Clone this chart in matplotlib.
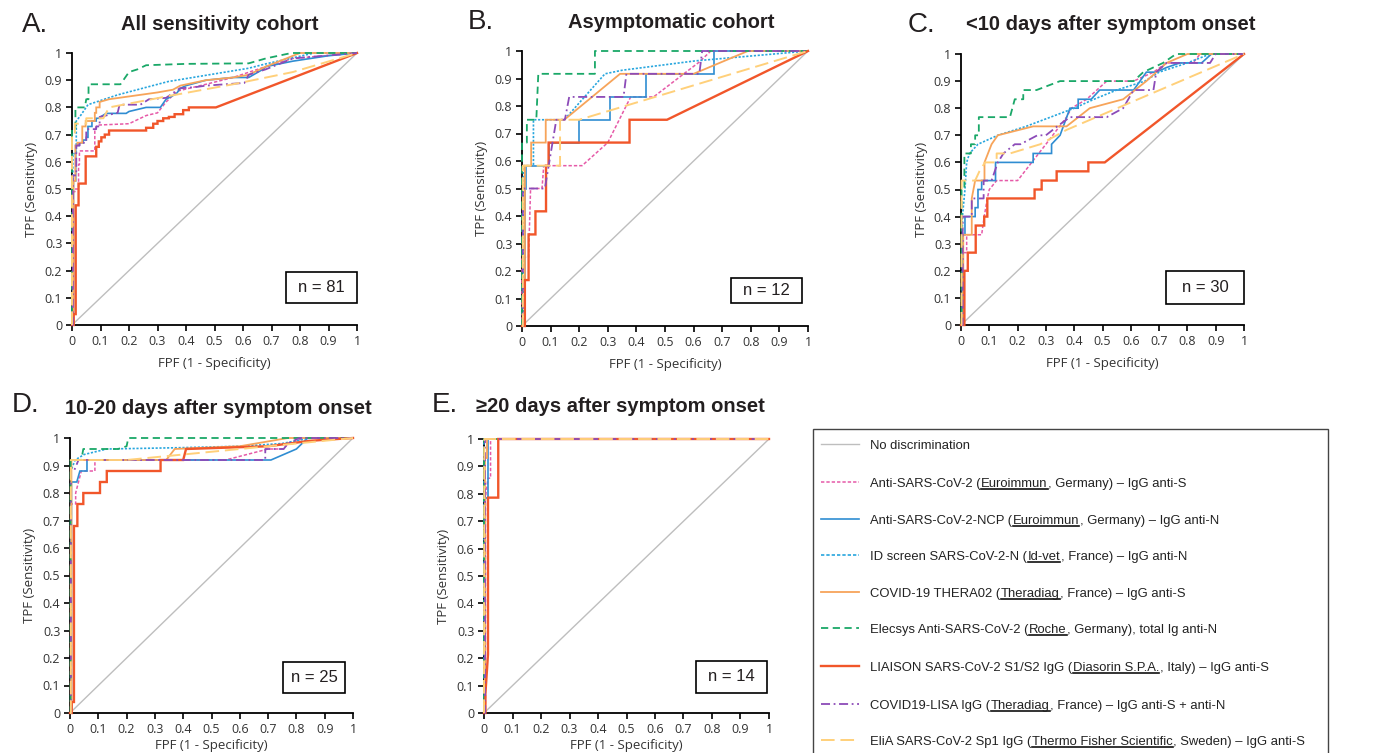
import numpy as np
import matplotlib
matplotlib.use("Agg")
import matplotlib.pyplot as plt
from matplotlib.lines import Line2D
from matplotlib.patches import Rectangle

# ---------------- DATA ----------------
TICKS = [0, 0.1, 0.2, 0.3, 0.4, 0.5, 0.6, 0.7, 0.8, 0.9, 1]
TICK_LABELS = ["0", "0.1", "0.2", "0.3", "0.4", "0.5", "0.6", "0.7", "0.8", "0.9", "1"]

PANEL_LETTERS = ["A.", "B.", "C.", "D.", "E."]
PANEL_TITLES = ["All sensitivity cohort", "Asymptomatic cohort",
                "<10 days after symptom onset", "10-20 days after symptom onset",
                "\u226520 days after symptom onset"]
PANEL_N = [81, 12, 30, 25, 14]

DIAG_FPR = [0, 1]
DIAG_TPR = [0, 1]

# ---- Panel A: all sensitivity cohort
A_euroS_fpr = [0, 0.003, 0.003, 0.01, 0.01, 0.023, 0.023, 0.026, 0.026, 0.044, 0.08, 0.08, 0.09, 0.2, 0.26, 0.3, 0.33, 0.37, 0.47, 0.565, 0.68, 0.775, 1]
A_euroS_tpr = [0, 0, 0.49, 0.49, 0.5, 0.5, 0.59, 0.59, 0.64, 0.64, 0.64, 0.72, 0.735, 0.74, 0.77, 0.78, 0.82, 0.86, 0.885, 0.91, 0.95, 0.98, 1]
A_euroN_fpr = [0, 0.005, 0.005, 0.013, 0.013, 0.025, 0.025, 0.039, 0.039, 0.05, 0.05, 0.056, 0.056, 0.07, 0.07, 0.085, 0.085, 0.1, 0.1, 0.12, 0.19, 0.2, 0.26, 0.31, 0.33, 0.366, 0.38, 0.4, 0.47, 0.565, 0.62, 0.67, 0.68, 0.775, 0.9, 1]
A_euroN_tpr = [0, 0, 0.53, 0.53, 0.66, 0.66, 0.67, 0.67, 0.68, 0.68, 0.69, 0.69, 0.73, 0.73, 0.75, 0.75, 0.76, 0.76, 0.765, 0.778, 0.778, 0.785, 0.8, 0.8, 0.83, 0.85, 0.87, 0.88, 0.9, 0.91, 0.91, 0.94, 0.95, 0.97, 0.99, 1]
A_idvet_fpr = [0, 0.003, 0.003, 0.015, 0.015, 0.03, 0.056, 0.16, 0.337, 0.62, 0.68, 0.85, 1]
A_idvet_tpr = [0, 0, 0.63, 0.63, 0.75, 0.77, 0.81, 0.846, 0.895, 0.944, 0.96, 1, 1]
A_thera_fpr = [0, 0.005, 0.005, 0.012, 0.012, 0.019, 0.019, 0.036, 0.036, 0.048, 0.048, 0.08, 0.08, 0.085, 0.085, 0.097, 0.097, 0.13, 0.3, 0.354, 0.38, 0.47, 0.565, 0.62, 0.68, 0.8, 1]
A_thera_tpr = [0, 0, 0.53, 0.53, 0.66, 0.66, 0.67, 0.67, 0.73, 0.73, 0.75, 0.75, 0.78, 0.78, 0.8, 0.8, 0.82, 0.83, 0.855, 0.865, 0.88, 0.9, 0.91, 0.92, 0.95, 1, 1]
A_roche_fpr = [0, 0, 0.012, 0.012, 0.045, 0.05, 0.058, 0.058, 0.17, 0.2, 0.23, 0.26, 0.4, 0.62, 0.68, 0.77, 1]
A_roche_tpr = [0, 0.72, 0.72, 0.80, 0.80, 0.83, 0.83, 0.885, 0.885, 0.93, 0.94, 0.955, 0.96, 0.962, 0.98, 1, 1]
A_liaison_fpr = [0, 0.006, 0.006, 0.013, 0.013, 0.023, 0.023, 0.048, 0.048, 0.085, 0.085, 0.094, 0.094, 0.103, 0.103, 0.115, 0.115, 0.13, 0.13, 0.26, 0.26, 0.285, 0.285, 0.3, 0.3, 0.32, 0.32, 0.34, 0.34, 0.36, 0.36, 0.39, 0.39, 0.41, 0.41, 0.505, 1]
A_liaison_tpr = [0, 0, 0.04, 0.04, 0.44, 0.44, 0.52, 0.52, 0.62, 0.62, 0.655, 0.655, 0.675, 0.675, 0.69, 0.69, 0.70, 0.70, 0.715, 0.715, 0.725, 0.725, 0.74, 0.74, 0.75, 0.75, 0.76, 0.76, 0.765, 0.765, 0.775, 0.775, 0.79, 0.79, 0.80, 0.80, 1]
A_lisa_fpr = [0, 0.003, 0.003, 0.015, 0.015, 0.027, 0.027, 0.05, 0.05, 0.085, 0.085, 0.097, 0.097, 0.16, 0.167, 0.24, 0.27, 0.33, 0.378, 0.436, 0.47, 0.605, 0.62, 0.68, 0.775, 1]
A_lisa_tpr = [0, 0, 0.55, 0.55, 0.66, 0.66, 0.67, 0.67, 0.72, 0.72, 0.73, 0.73, 0.765, 0.78, 0.81, 0.81, 0.83, 0.835, 0.87, 0.875, 0.88, 0.89, 0.92, 0.94, 0.98, 1]
A_elia_fpr = [0, 0, 0.01, 0.01, 0.05, 0.05, 0.11, 0.13, 0.33, 0.565, 0.775, 1]
A_elia_tpr = [0, 0.69, 0.69, 0.74, 0.74, 0.76, 0.76, 0.8, 0.84, 0.885, 0.93, 1]

# ---- Panel B: asymptomatic cohort
B_euroS_fpr = [0, 0, 0.023, 0.03, 0.07, 0.076, 0.21, 0.3, 0.38, 0.46, 0.62, 0.66, 1]
B_euroS_tpr = [0, 0.25, 0.25, 0.5, 0.5, 0.583, 0.583, 0.667, 0.833, 0.833, 0.96, 1, 1]
B_euroN_fpr = [0, 0.012, 0.012, 0.014, 0.014, 0.093, 0.093, 0.2, 0.2, 0.307, 0.307, 0.435, 0.435, 0.67, 0.67, 1]
B_euroN_tpr = [0, 0, 0.5, 0.5, 0.583, 0.583, 0.667, 0.667, 0.75, 0.75, 0.833, 0.833, 0.917, 0.917, 1, 1]
B_idvet_fpr = [0, 0.005, 0.005, 0.04, 0.04, 0.148, 0.29, 0.35, 0.605, 1]
B_idvet_tpr = [0, 0, 0.583, 0.583, 0.75, 0.75, 0.917, 0.93, 0.964, 1]
B_thera_fpr = [0, 0.01, 0.01, 0.032, 0.032, 0.083, 0.083, 0.148, 0.343, 0.6, 0.79, 1]
B_thera_tpr = [0, 0, 0.583, 0.583, 0.667, 0.667, 0.75, 0.75, 0.917, 0.917, 1, 1]
B_roche_fpr = [0, 0, 0.017, 0.017, 0.05, 0.057, 0.255, 0.255, 1]
B_roche_tpr = [0, 0.667, 0.667, 0.75, 0.75, 0.917, 0.917, 1, 1]
B_liaison_fpr = [0, 0.01, 0.01, 0.023, 0.023, 0.047, 0.047, 0.084, 0.084, 0.093, 0.093, 0.376, 0.376, 0.507, 1]
B_liaison_tpr = [0, 0, 0.167, 0.167, 0.333, 0.333, 0.417, 0.417, 0.583, 0.583, 0.667, 0.667, 0.75, 0.75, 1]
B_lisa_fpr = [0, 0.003, 0.003, 0.08, 0.12, 0.15, 0.165, 0.355, 0.365, 0.62, 0.63, 1]
B_lisa_tpr = [0, 0, 0.5, 0.5, 0.75, 0.75, 0.833, 0.833, 0.917, 0.917, 1, 1]
B_elia_fpr = [0, 0.003, 0.003, 0.133, 0.133, 0.2, 1]
B_elia_tpr = [0, 0, 0.583, 0.583, 0.75, 0.75, 1]

# ---- Panel C: <10 days after symptom onset
C_euroS_fpr = [0, 0.008, 0.008, 0.02, 0.02, 0.073, 0.082, 0.093, 0.1, 0.126, 0.2, 0.3, 0.373, 0.39, 0.444, 0.515, 0.61, 0.68, 0.726, 0.82, 0.845, 1]
C_euroS_tpr = [0, 0, 0.267, 0.267, 0.333, 0.333, 0.4, 0.467, 0.5, 0.533, 0.533, 0.667, 0.767, 0.8, 0.833, 0.9, 0.9, 0.933, 0.967, 0.967, 1, 1]
C_euroN_fpr = [0, 0.006, 0.006, 0.014, 0.014, 0.05, 0.05, 0.06, 0.06, 0.073, 0.073, 0.122, 0.122, 0.255, 0.255, 0.32, 0.32, 0.35, 0.385, 0.414, 0.414, 0.46, 0.49, 0.61, 0.655, 0.69, 0.726, 0.773, 0.85, 0.885, 1]
C_euroN_tpr = [0, 0, 0.333, 0.333, 0.4, 0.4, 0.433, 0.433, 0.5, 0.5, 0.533, 0.533, 0.6, 0.6, 0.633, 0.633, 0.667, 0.7, 0.8, 0.8, 0.833, 0.833, 0.867, 0.867, 0.933, 0.933, 0.95, 0.967, 0.967, 1, 1]
C_idvet_fpr = [0, 0.005, 0.005, 0.014, 0.02, 0.03, 0.06, 0.13, 0.23, 0.4, 0.47, 0.55, 0.65, 0.7, 0.8, 0.88, 1]
C_idvet_tpr = [0, 0, 0.4, 0.5, 0.6, 0.633, 0.667, 0.7, 0.733, 0.8, 0.833, 0.867, 0.9, 0.933, 0.967, 1, 1]
C_thera_fpr = [0, 0.008, 0.008, 0.038, 0.038, 0.05, 0.083, 0.083, 0.108, 0.13, 0.255, 0.373, 0.455, 0.573, 0.655, 0.726, 0.8, 1]
C_thera_tpr = [0, 0, 0.333, 0.333, 0.467, 0.533, 0.533, 0.6, 0.667, 0.7, 0.733, 0.733, 0.8, 0.833, 0.9, 0.967, 1, 1]
C_roche_fpr = [0, 0.002, 0.002, 0.012, 0.012, 0.035, 0.035, 0.05, 0.05, 0.063, 0.063, 0.173, 0.19, 0.22, 0.22, 0.267, 0.35, 0.61, 0.644, 0.714, 0.76, 1]
C_roche_tpr = [0, 0, 0.5, 0.5, 0.633, 0.633, 0.667, 0.667, 0.7, 0.7, 0.767, 0.767, 0.833, 0.833, 0.867, 0.867, 0.9, 0.9, 0.933, 0.967, 1, 1]
C_liaison_fpr = [0, 0.012, 0.012, 0.024, 0.024, 0.052, 0.052, 0.082, 0.082, 0.093, 0.093, 0.26, 0.26, 0.285, 0.285, 0.338, 0.338, 0.45, 0.45, 0.508, 1]
C_liaison_tpr = [0, 0, 0.2, 0.2, 0.267, 0.267, 0.367, 0.367, 0.4, 0.4, 0.467, 0.467, 0.5, 0.5, 0.533, 0.533, 0.567, 0.567, 0.6, 0.6, 1]
C_lisa_fpr = [0, 0.006, 0.006, 0.038, 0.038, 0.08, 0.08, 0.108, 0.13, 0.15, 0.19, 0.21, 0.27, 0.3, 0.34, 0.385, 0.515, 0.573, 0.61, 0.68, 0.69, 0.726, 0.88, 0.9, 1]
C_lisa_tpr = [0, 0, 0.4, 0.4, 0.467, 0.467, 0.533, 0.533, 0.6, 0.633, 0.667, 0.667, 0.7, 0.7, 0.733, 0.767, 0.767, 0.8, 0.867, 0.867, 0.933, 0.967, 0.967, 1, 1]
C_elia_fpr = [0, 0.002, 0.002, 0.05, 0.065, 0.085, 0.126, 0.126, 0.173, 0.28, 0.373, 1]
C_elia_tpr = [0, 0, 0.533, 0.533, 0.567, 0.6, 0.6, 0.633, 0.633, 0.667, 0.72, 1]

# ---- Panel D: 10-20 days after symptom onset
D_euroS_fpr = [0, 0.004, 0.004, 0.02, 0.02, 0.04, 0.088, 0.088, 0.55, 0.7, 0.755, 0.77, 0.83, 1]
D_euroS_tpr = [0, 0, 0.76, 0.76, 0.8, 0.88, 0.88, 0.92, 0.92, 0.96, 0.96, 0.98, 1, 1]
D_euroN_fpr = [0, 0.005, 0.005, 0.024, 0.035, 0.06, 0.06, 0.71, 0.8, 0.84, 1]
D_euroN_tpr = [0, 0, 0.84, 0.84, 0.88, 0.88, 0.92, 0.92, 0.96, 1, 1]
D_idvet_fpr = [0, 0.003, 0.003, 0.018, 0.05, 0.13, 0.4, 0.6, 0.75, 0.85, 1]
D_idvet_tpr = [0, 0, 0.88, 0.92, 0.94, 0.96, 0.965, 0.97, 0.98, 1, 1]
D_thera_fpr = [0, 0.005, 0.005, 0.34, 0.37, 0.6, 0.77, 1]
D_thera_tpr = [0, 0, 0.92, 0.92, 0.96, 0.97, 1, 1]
D_roche_fpr = [0, 0.002, 0.002, 0.04, 0.047, 0.17, 0.2, 0.206, 1]
D_roche_tpr = [0, 0, 0.92, 0.92, 0.96, 0.96, 0.97, 1, 1]
D_liaison_fpr = [0, 0.006, 0.006, 0.014, 0.014, 0.026, 0.026, 0.047, 0.047, 0.106, 0.106, 0.13, 0.13, 0.32, 0.32, 0.4, 0.41, 0.7, 0.85, 1]
D_liaison_tpr = [0, 0, 0.04, 0.04, 0.68, 0.68, 0.76, 0.76, 0.8, 0.8, 0.84, 0.84, 0.88, 0.88, 0.92, 0.92, 0.96, 0.97, 0.99, 1]
D_lisa_fpr = [0, 0.003, 0.003, 0.014, 0.03, 0.69, 0.69, 0.755, 0.77, 0.81, 1]
D_lisa_tpr = [0, 0, 0.88, 0.88, 0.92, 0.92, 0.96, 0.96, 0.98, 1, 1]
D_elia_fpr = [0, 0.003, 0.003, 0.2, 1]
D_elia_tpr = [0, 0, 0.92, 0.92, 1]

# ---- Panel E: >=20 days after symptom onset
E_euroS_fpr = [0, 0.005, 0.005, 0.014, 0.023, 0.023, 1]
E_euroS_tpr = [0, 0, 0.786, 0.857, 0.857, 1, 1]
E_euroN_fpr = [0, 0.005, 0.005, 0.014, 0.014, 1]
E_euroN_tpr = [0, 0, 0.786, 0.786, 1, 1]
E_idvet_fpr = [0, 0, 1]
E_idvet_tpr = [0, 1, 1]
E_thera_fpr = [0, 0.004, 0.004, 0.012, 0.012, 1]
E_thera_tpr = [0, 0, 0.929, 0.929, 1, 1]
E_roche_fpr = [0, 0, 1]
E_roche_tpr = [0, 1, 1]
E_liaison_fpr = [0, 0.005, 0.005, 0.014, 0.014, 0.05, 0.05, 1]
E_liaison_tpr = [0, 0, 0.071, 0.214, 0.786, 0.786, 1, 1]
E_lisa_fpr = [0, 0.002, 0.002, 1]
E_lisa_tpr = [0, 0, 1, 1]
E_elia_fpr = [0, 0.001, 1]
E_elia_tpr = [0, 1, 1]

ASSAYS = ["euroS", "euroN", "idvet", "thera", "roche", "liaison", "lisa", "elia"]
LEGEND_TEXT = [
    ("No discrimination", "", ""),
    ("Anti-SARS-CoV-2 (", "Euroimmun", ", Germany) \u2013 IgG anti-S"),
    ("Anti-SARS-CoV-2-NCP (", "Euroimmun", ", Germany) \u2013 IgG anti-N"),
    ("ID screen SARS-CoV-2-N (", "Id-vet", ", France) \u2013 IgG anti-N"),
    ("COVID-19 THERA02 (", "Theradiag", ", France) \u2013 IgG anti-S"),
    ("Elecsys Anti-SARS-CoV-2 (", "Roche", ", Germany), total Ig anti-N"),
    ("LIAISON SARS-CoV-2 S1/S2 IgG (", "Diasorin S.P.A.", ", Italy) \u2013 IgG anti-S"),
    ("COVID19-LISA IgG (", "Theradiag", ", France) \u2013 IgG anti-S + anti-N"),
    ("EliA SARS-CoV-2 Sp1 IgG (", "Thermo Fisher Scientific", ", Sweden) \u2013 IgG anti-S"),
]

g = globals()
PANEL_DATA = []
for p in "ABCDE":
    PANEL_DATA.append({k: (g[f"{p}_{k}_fpr"], g[f"{p}_{k}_tpr"]) for k in ASSAYS})

# ---------------- STYLES / LAYOUT ----------------
STYLE = {
    "diag":    dict(color="#BEBEBE", ls="-", lw=1.0),
    "euroS":   dict(color="#E65AA8", ls=(0, (2.2, 1.3)), lw=1.1),
    "euroN":   dict(color="#2F8DD2", ls="-", lw=1.2),
    "idvet":   dict(color="#28A6DE", ls=(0, (1.3, 1.0)), lw=1.2),
    "thera":   dict(color="#F7A45A", ls="-", lw=1.3),
    "roche":   dict(color="#1AA868", ls=(0, (4, 2.5)), lw=1.3),
    "liaison": dict(color="#F1562A", ls="-", lw=1.7),
    "lisa":    dict(color="#8C4BB8", ls=(0, (5, 2, 1, 2)), lw=1.3),
    "elia":    dict(color="#FFD07A", ls=(0, (7, 3)), lw=1.4),
}
LEG_STYLE_OVERRIDE = {"idvet": (0, (2, 1.2))}

W, H = 1390, 753
fig = plt.figure(figsize=(W / 100, H / 100), dpi=100)
fig.patch.set_facecolor("white")


def fx(px):
    return px / W


def fy(py):
    return 1 - py / H


# axes boxes in pixels: left, top, right, bottom
AX_PX = [(72, 53, 357, 325), (522, 51, 808, 326), (961, 54, 1244, 325),
         (70, 438, 353, 713), (484, 439, 769, 713)]
NBOX = [(0.75, 0.081, 1.0, 0.195), (0.732, 0.084, 0.98, 0.175), (0.724, 0.077, 1.0, 0.2),
        (0.753, 0.073, 0.972, 0.185), (0.744, 0.073, 0.993, 0.19)]
LETTER_POS = [(22, 25), (468, 22), (908, 25), (12, 405), (432, 405)]
TITLE_POS = [(121, 25), (568, 22), (966, 25), (65, 408), (476, 407)]

TICK_FONT = ["Open Sans", "DejaVu Sans"]
TXT_COL = "#231F20"

for i, (l, t, r, b) in enumerate(AX_PX):
    ax = fig.add_axes([fx(l), fy(b), (r - l) / W, (b - t) / H])
    ax.set_xlim(0, 1)
    ax.set_ylim(0, 1)
    ax.plot(DIAG_FPR, DIAG_TPR, zorder=2, **STYLE["diag"])
    for k in ASSAYS:
        xs, ys = PANEL_DATA[i][k]
        st = STYLE[k]
        ax.plot(xs, ys, color=st["color"], linestyle=st["ls"], linewidth=st["lw"],
                zorder=3, clip_on=False, solid_joinstyle="miter")
    for s in ("top", "right"):
        ax.spines[s].set_visible(False)
    for s in ("left", "bottom"):
        ax.spines[s].set_linewidth(1.3)
        ax.spines[s].set_color("black")
        ax.spines[s].set_zorder(2.5)
    ax.set_xticks(TICKS)
    ax.set_yticks(TICKS)
    ax.set_xticklabels(TICK_LABELS, fontfamily=TICK_FONT, fontsize=9, color="#333333")
    ax.set_yticklabels(TICK_LABELS, fontfamily=TICK_FONT, fontsize=9, color="#333333")
    ax.tick_params(direction="out", length=4, width=1.2, pad=3, color="black")
    axw, axh = r - l, b - t
    ax.set_ylabel("TPF (Sensitivity)", fontfamily=TICK_FONT, fontsize=9.5, color="#333333",
                  va="center")
    ax.yaxis.set_label_coords(-40 / axw, 0.5)
    ax.set_xlabel("FPF (1 - Specificity)", fontfamily=TICK_FONT, fontsize=9.5, color="#333333",
                  va="center")
    ax.xaxis.set_label_coords(0.5, -(38 if i < 3 else 32) / axh)
    x0, y0, x1, y1 = NBOX[i]
    ax.add_patch(Rectangle((x0, y0), x1 - x0, y1 - y0, transform=ax.transAxes,
                           facecolor="white", edgecolor="black", lw=1.2, zorder=6, clip_on=False))
    ax.text((x0 + x1) / 2, (y0 + y1) / 2, f"n = {PANEL_N[i]}", transform=ax.transAxes,
            ha="center", va="center", fontsize=12, fontfamily="Liberation Sans",
            color=TXT_COL, zorder=7)
    lx, ly = LETTER_POS[i]
    fig.text(fx(lx), fy(ly), PANEL_LETTERS[i], ha="left", va="center", fontsize=20,
             fontfamily="Liberation Sans", color=TXT_COL)
    tx, ty = TITLE_POS[i]
    fig.text(fx(tx), fy(ty), PANEL_TITLES[i], ha="left", va="center", fontsize=14.5,
             fontweight="bold", fontfamily=["Liberation Sans", "DejaVu Sans"], color=TXT_COL)

# ---------------- legend box ----------------
fig.add_artist(Rectangle((fx(813), fy(770)), (1328 - 813) / W, (770 - 429) / H,
                         transform=fig.transFigure, facecolor="white", edgecolor="#444444",
                         lw=1.0, zorder=1))
LEG_ROWS = [444, 482, 519, 555, 592, 628, 666, 704, 740]
LEG_KEYS = ["diag"] + ASSAYS
renderer = fig.canvas.get_renderer()
for row, key, parts in zip(LEG_ROWS, LEG_KEYS, LEGEND_TEXT):
    st = STYLE[key]
    ls = LEG_STYLE_OVERRIDE.get(key, st["ls"])
    fig.add_artist(Line2D([fx(821), fx(859)], [fy(row), fy(row)], transform=fig.transFigure,
                          color=st["color"], linestyle=ls, linewidth=st["lw"], zorder=3))
    base = row + 4.8
    xcur = 870
    for j, txt in enumerate(parts):
        if not txt:
            continue
        tt = fig.text(fx(xcur), fy(base), txt, ha="left", va="baseline", fontsize=9.4,
                      fontfamily="Liberation Sans", color="#222222", zorder=4)
        bb = tt.get_window_extent(renderer)
        if j == 1:
            fig.add_artist(Line2D([bb.x0 / W, bb.x1 / W], [fy(base + 2.6)] * 2,
                                  transform=fig.transFigure, color="#111111", lw=1.2, zorder=4))
        xcur = bb.x1 + 0.6

fig.savefig("out.png", dpi=100, facecolor="white")
